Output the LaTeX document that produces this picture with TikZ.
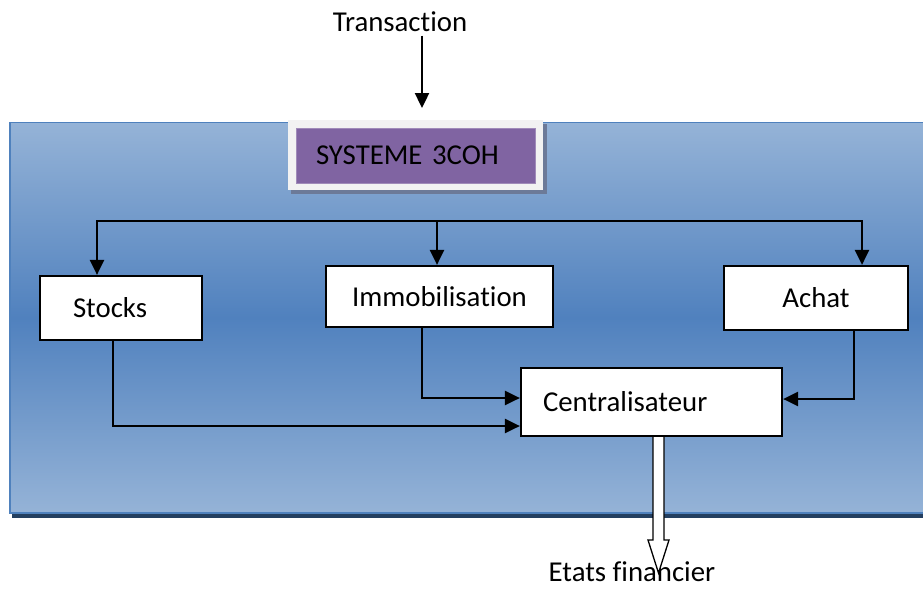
\documentclass[tikz,border=0pt]{standalone}
\usepackage{fontspec}
\setmainfont{Carlito}[Ligatures={NoCommon}]
\usetikzlibrary{arrows.meta,calc}

\definecolor{bgtop}{RGB}{149,179,215}
\definecolor{bgmid}{RGB}{80,129,190}
\definecolor{bgedge}{RGB}{79,129,189}
\definecolor{bgshadow}{RGB}{36,63,96}
\definecolor{sysfill}{RGB}{128,100,162}
\definecolor{sysframe}{RGB}{242,242,242}
\definecolor{sysshadow}{RGB}{108,122,152}

\begin{document}
\begin{tikzpicture}[x=1pt,y=-1pt,
  font=\fontsize{28.8}{34}\selectfont,
  box/.style={draw=black, line width=2.2pt, fill=white, inner sep=0pt},
  conn/.style={line width=2.4pt, -{Triangle[length=15pt,width=14pt]}},
  hollow/.style={draw=black, line width=1.3pt, fill=white, line join=miter}]
\useasboundingbox (0,0) rectangle (923,589);

% blue panel with its drop shadow
\fill[bgshadow] (12,511) rectangle (940,518);
\path[top color=bgtop, bottom color=bgtop, middle color=bgmid,
      draw=bgedge, line width=1.8pt] (10,122.5) rectangle (940,513);

% title box
\fill[sysshadow] (291,124) rectangle (547,194);
\fill[sysframe] (288,120) rectangle (543,190);
\node[fill=sysfill, draw=sysfill!75!white, line width=0.8pt,
      minimum height=55pt, inner xsep=20pt, text width=199pt, align=left]
      (sys) at (415.5,155.5) {SYSTEME 3COH};

% input
\node (trans) at (400,22) {Transaction};
\coordinate (tin) at (422,108);
\draw[conn] (trans.south -| tin) -- (tin);

% modules
\node[box, minimum height=64pt, inner xsep=33pt, text width=96pt, align=left]
      (stocks) at (121,308) {Stocks};
\node[box, minimum width=227pt, minimum height=61pt] (immo) at (439.5,296.5) {Immobilisation};
\node[box, minimum width=184pt, minimum height=64pt] (achat) at (816,298) {Achat};
\node[box, minimum height=68pt, inner xsep=22pt, text width=217pt, align=left]
      (central) at (651.5,402) {Centralisateur};

% distribution to the modules
\coordinate (dl) at (97,221);
\coordinate (dm) at (437,221);
\coordinate (dr) at (862,221);
\draw[conn] (dm) -- (dl) -- (dl |- stocks.north);
\draw[conn] (dm) -- (dr) -- (dr |- achat.north);
\draw[conn] (dm) -- (dm |- immo.north);

% modules to the centraliser
\coordinate (ia) at (422,398);
\coordinate (sa) at (113,426);
\coordinate (aa) at (854,399);
\draw[conn] (immo.south -| ia) |- (central.west |- ia);
\draw[conn] (stocks.south -| sa) |- (central.west |- sa);
\draw[conn] (achat.south -| aa) |- (central.east |- aa);

% output
\node[inner sep=1pt] (etats) at (632,572) {Etats financier};
\coordinate (etip) at (658.5,573);
\coordinate (eo) at (central.south -| etip);
\draw[hollow] ($(eo)+(-5.5,0)$) -- ($(etip)+(-5.5,-33)$) -- ($(etip)+(-10.5,-33)$)
  -- (etip) -- ($(etip)+(10.5,-33)$) -- ($(etip)+(5.5,-33)$) -- ($(eo)+(5.5,0)$);
\end{tikzpicture}
\end{document}
